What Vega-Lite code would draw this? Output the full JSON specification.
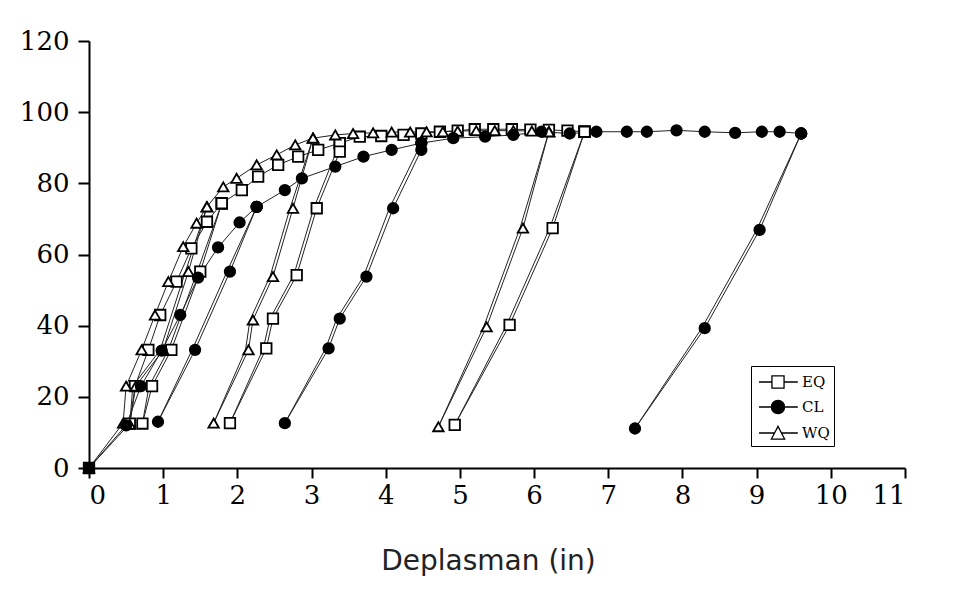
{
  "$schema": "https://vega.github.io/schema/vega-lite/v6.json",
  "width": 816,
  "height": 427,
  "autosize": {"type": "none"},
  "padding": {"left": 89, "top": 41, "right": 59, "bottom": 131},
  "background": "white",
  "config": {"view": {"stroke": null}},
  "datasets": {
    "curves": [
      {"s":"EQ","p":"EQ0","o":1,"x":0,"y":0},{"s":"EQ","p":"EQ0","o":2,"x":0.55,"y":12.5},{"s":"EQ","p":"EQ0","o":3,"x":0.62,"y":23},{"s":"EQ","p":"EQ0","o":4,"x":0.8,"y":33.2},{"s":"EQ","p":"EQ0","o":5,"x":0.96,"y":43},{"s":"EQ","p":"EQ0","o":6,"x":1.18,"y":52.4},{"s":"EQ","p":"EQ0","o":7,"x":1.38,"y":61.7},{"s":"EQ","p":"EQ0","o":8,"x":1.59,"y":69.2},{"s":"EQ","p":"EQ0","o":9,"x":1.79,"y":74.4},{"s":"EQ","p":"EQ0","o":10,"x":2.06,"y":78.1},{"s":"EQ","p":"EQ0","o":11,"x":2.28,"y":81.9},{"s":"EQ","p":"EQ0","o":12,"x":2.55,"y":85.2},{"s":"EQ","p":"EQ0","o":13,"x":2.82,"y":87.5},{"s":"EQ","p":"EQ0","o":14,"x":3.09,"y":89.4},{"s":"EQ","p":"EQ0","o":15,"x":3.38,"y":91.3},{"s":"EQ","p":"EQ0","o":16,"x":3.65,"y":93.1},{"s":"EQ","p":"EQ0","o":17,"x":3.94,"y":93.3},{"s":"EQ","p":"EQ0","o":18,"x":4.24,"y":93.6},{"s":"EQ","p":"EQ0","o":19,"x":4.48,"y":94},{"s":"EQ","p":"EQ0","o":20,"x":4.73,"y":94.5},{"s":"EQ","p":"EQ0","o":21,"x":4.97,"y":94.8},{"s":"EQ","p":"EQ0","o":22,"x":5.2,"y":95.2},{"s":"EQ","p":"EQ0","o":23,"x":5.45,"y":95.2},{"s":"EQ","p":"EQ0","o":24,"x":5.7,"y":95.2},{"s":"EQ","p":"EQ0","o":25,"x":5.95,"y":95.1},{"s":"EQ","p":"EQ0","o":26,"x":6.2,"y":95},{"s":"EQ","p":"EQ0","o":27,"x":6.45,"y":94.8},{"s":"EQ","p":"EQ0","o":28,"x":6.68,"y":94.5},
      {"s":"EQ","p":"EQ1","o":1,"x":1.79,"y":74.4},{"s":"EQ","p":"EQ1","o":2,"x":1.46,"y":55.2,"u":1},{"s":"EQ","p":"EQ1","o":3,"x":1.07,"y":33.2,"u":1},{"s":"EQ","p":"EQ1","o":4,"x":0.81,"y":23,"u":1},{"s":"EQ","p":"EQ1","o":5,"x":0.72,"y":12.5},{"s":"EQ","p":"EQ1","o":6,"x":0.85,"y":23},{"s":"EQ","p":"EQ1","o":7,"x":1.11,"y":33.2},{"s":"EQ","p":"EQ1","o":8,"x":1.5,"y":55.2},{"s":"EQ","p":"EQ1","o":9,"x":1.79,"y":74.4},
      {"s":"EQ","p":"EQ2","o":1,"x":3.38,"y":91.3},{"s":"EQ","p":"EQ2","o":2,"x":3.03,"y":73,"u":1},{"s":"EQ","p":"EQ2","o":3,"x":2.76,"y":54.2,"u":1},{"s":"EQ","p":"EQ2","o":4,"x":2.44,"y":42,"u":1},{"s":"EQ","p":"EQ2","o":5,"x":2.35,"y":33.6,"u":1},{"s":"EQ","p":"EQ2","o":6,"x":1.9,"y":12.6},{"s":"EQ","p":"EQ2","o":7,"x":2.39,"y":33.6},{"s":"EQ","p":"EQ2","o":8,"x":2.48,"y":42},{"s":"EQ","p":"EQ2","o":9,"x":2.8,"y":54.2},{"s":"EQ","p":"EQ2","o":10,"x":3.07,"y":73},{"s":"EQ","p":"EQ2","o":11,"x":3.38,"y":88.9},
      {"s":"EQ","p":"EQ3","o":1,"x":6.68,"y":94.5},{"s":"EQ","p":"EQ3","o":2,"x":6.21,"y":67.4,"u":1},{"s":"EQ","p":"EQ3","o":3,"x":5.63,"y":40.2,"u":1},{"s":"EQ","p":"EQ3","o":4,"x":4.93,"y":12.1},{"s":"EQ","p":"EQ3","o":5,"x":5.67,"y":40.2},{"s":"EQ","p":"EQ3","o":6,"x":6.25,"y":67.4},{"s":"EQ","p":"EQ3","o":7,"x":6.68,"y":94.5},
      {"s":"WQ","p":"WQ0","o":1,"x":0,"y":0},{"s":"WQ","p":"WQ0","o":2,"x":0.46,"y":12.6},{"s":"WQ","p":"WQ0","o":3,"x":0.5,"y":23},{"s":"WQ","p":"WQ0","o":4,"x":0.71,"y":33.2},{"s":"WQ","p":"WQ0","o":5,"x":0.89,"y":43},{"s":"WQ","p":"WQ0","o":6,"x":1.07,"y":52.4},{"s":"WQ","p":"WQ0","o":7,"x":1.27,"y":62.2},{"s":"WQ","p":"WQ0","o":8,"x":1.45,"y":68.8},{"s":"WQ","p":"WQ0","o":9,"x":1.59,"y":73.4},{"s":"WQ","p":"WQ0","o":10,"x":1.81,"y":79},{"s":"WQ","p":"WQ0","o":11,"x":1.99,"y":81.4},{"s":"WQ","p":"WQ0","o":12,"x":2.26,"y":85.2},{"s":"WQ","p":"WQ0","o":13,"x":2.53,"y":88},{"s":"WQ","p":"WQ0","o":14,"x":2.78,"y":90.8},{"s":"WQ","p":"WQ0","o":15,"x":3.02,"y":92.7},{"s":"WQ","p":"WQ0","o":16,"x":3.32,"y":93.6},{"s":"WQ","p":"WQ0","o":17,"x":3.56,"y":94},{"s":"WQ","p":"WQ0","o":18,"x":3.83,"y":94.2},{"s":"WQ","p":"WQ0","o":19,"x":4.08,"y":94.4},{"s":"WQ","p":"WQ0","o":20,"x":4.33,"y":94.4},{"s":"WQ","p":"WQ0","o":21,"x":4.55,"y":94.5},{"s":"WQ","p":"WQ0","o":22,"x":4.77,"y":94.5},{"s":"WQ","p":"WQ0","o":23,"x":4.97,"y":94.7},{"s":"WQ","p":"WQ0","o":24,"x":5.22,"y":94.8},{"s":"WQ","p":"WQ0","o":25,"x":5.47,"y":94.8},{"s":"WQ","p":"WQ0","o":26,"x":5.72,"y":94.8},{"s":"WQ","p":"WQ0","o":27,"x":5.97,"y":94.7},{"s":"WQ","p":"WQ0","o":28,"x":6.2,"y":94.5},
      {"s":"WQ","p":"WQ1","o":1,"x":1.59,"y":73.4},{"s":"WQ","p":"WQ1","o":2,"x":1.3,"y":55.2,"u":1},{"s":"WQ","p":"WQ1","o":3,"x":0.96,"y":33.2,"u":1},{"s":"WQ","p":"WQ1","o":4,"x":0.59,"y":23,"u":1},{"s":"WQ","p":"WQ1","o":5,"x":0.55,"y":12.3},{"s":"WQ","p":"WQ1","o":6,"x":0.63,"y":23},{"s":"WQ","p":"WQ1","o":7,"x":1.0,"y":33.2},{"s":"WQ","p":"WQ1","o":8,"x":1.34,"y":55.2},{"s":"WQ","p":"WQ1","o":9,"x":1.59,"y":73.4},
      {"s":"WQ","p":"WQ2","o":1,"x":3.02,"y":92.7},{"s":"WQ","p":"WQ2","o":2,"x":2.71,"y":73,"u":1},{"s":"WQ","p":"WQ2","o":3,"x":2.44,"y":53.8,"u":1},{"s":"WQ","p":"WQ2","o":4,"x":2.17,"y":41.6,"u":1},{"s":"WQ","p":"WQ2","o":5,"x":2.11,"y":33.2,"u":1},{"s":"WQ","p":"WQ2","o":6,"x":1.68,"y":12.6},{"s":"WQ","p":"WQ2","o":7,"x":2.15,"y":33.2},{"s":"WQ","p":"WQ2","o":8,"x":2.21,"y":41.6},{"s":"WQ","p":"WQ2","o":9,"x":2.48,"y":53.8},{"s":"WQ","p":"WQ2","o":10,"x":2.75,"y":73},{"s":"WQ","p":"WQ2","o":11,"x":3.02,"y":92.7},
      {"s":"WQ","p":"WQ3","o":1,"x":6.2,"y":94.5},{"s":"WQ","p":"WQ3","o":2,"x":5.81,"y":67.4,"u":1},{"s":"WQ","p":"WQ3","o":3,"x":5.32,"y":39.7,"u":1},{"s":"WQ","p":"WQ3","o":4,"x":4.71,"y":11.6},{"s":"WQ","p":"WQ3","o":5,"x":5.36,"y":39.7},{"s":"WQ","p":"WQ3","o":6,"x":5.85,"y":67.4},{"s":"WQ","p":"WQ3","o":7,"x":6.2,"y":94.5},
      {"s":"CL","p":"CL0","o":1,"x":0,"y":0},{"s":"CL","p":"CL0","o":2,"x":0.5,"y":12},{"s":"CL","p":"CL0","o":3,"x":0.7,"y":23},{"s":"CL","p":"CL0","o":4,"x":0.98,"y":33},{"s":"CL","p":"CL0","o":5,"x":1.23,"y":43},{"s":"CL","p":"CL0","o":6,"x":1.47,"y":53.5},{"s":"CL","p":"CL0","o":7,"x":1.74,"y":62},{"s":"CL","p":"CL0","o":8,"x":2.03,"y":69},{"s":"CL","p":"CL0","o":9,"x":2.26,"y":73.4},{"s":"CL","p":"CL0","o":10,"x":2.64,"y":78.1},{"s":"CL","p":"CL0","o":11,"x":2.87,"y":81.4},{"s":"CL","p":"CL0","o":12,"x":3.32,"y":84.7},{"s":"CL","p":"CL0","o":13,"x":3.7,"y":87.5},{"s":"CL","p":"CL0","o":14,"x":4.08,"y":89.4},{"s":"CL","p":"CL0","o":15,"x":4.48,"y":91.3},{"s":"CL","p":"CL0","o":16,"x":4.91,"y":92.7},{"s":"CL","p":"CL0","o":17,"x":5.34,"y":93.1},{"s":"CL","p":"CL0","o":18,"x":5.72,"y":93.6},{"s":"CL","p":"CL0","o":19,"x":6.1,"y":94.5},{"s":"CL","p":"CL0","o":20,"x":6.48,"y":94},{"s":"CL","p":"CL0","o":21,"x":6.84,"y":94.5},{"s":"CL","p":"CL0","o":22,"x":7.25,"y":94.5},{"s":"CL","p":"CL0","o":23,"x":7.52,"y":94.5},{"s":"CL","p":"CL0","o":24,"x":7.92,"y":94.9},{"s":"CL","p":"CL0","o":25,"x":8.3,"y":94.5},{"s":"CL","p":"CL0","o":26,"x":8.71,"y":94.2},{"s":"CL","p":"CL0","o":27,"x":9.07,"y":94.5},{"s":"CL","p":"CL0","o":28,"x":9.31,"y":94.5},{"s":"CL","p":"CL0","o":29,"x":9.6,"y":94},
      {"s":"CL","p":"CL1","o":1,"x":2.26,"y":73.4},{"s":"CL","p":"CL1","o":2,"x":1.86,"y":55.2,"u":1},{"s":"CL","p":"CL1","o":3,"x":1.39,"y":33.2,"u":1},{"s":"CL","p":"CL1","o":4,"x":0.93,"y":13},{"s":"CL","p":"CL1","o":5,"x":1.43,"y":33.2},{"s":"CL","p":"CL1","o":6,"x":1.9,"y":55.2},{"s":"CL","p":"CL1","o":7,"x":2.26,"y":73.4},
      {"s":"CL","p":"CL2","o":1,"x":4.48,"y":91.3},{"s":"CL","p":"CL2","o":2,"x":4.05,"y":73,"u":1},{"s":"CL","p":"CL2","o":3,"x":3.7,"y":53.8,"u":1},{"s":"CL","p":"CL2","o":4,"x":3.34,"y":42,"u":1},{"s":"CL","p":"CL2","o":5,"x":3.19,"y":33.6,"u":1},{"s":"CL","p":"CL2","o":6,"x":2.64,"y":12.6},{"s":"CL","p":"CL2","o":7,"x":3.23,"y":33.6},{"s":"CL","p":"CL2","o":8,"x":3.38,"y":42},{"s":"CL","p":"CL2","o":9,"x":3.74,"y":53.8},{"s":"CL","p":"CL2","o":10,"x":4.1,"y":73},{"s":"CL","p":"CL2","o":11,"x":4.48,"y":89.4},
      {"s":"CL","p":"CL3","o":1,"x":9.6,"y":94},{"s":"CL","p":"CL3","o":2,"x":9.0,"y":66.9,"u":1},{"s":"CL","p":"CL3","o":3,"x":8.26,"y":39.3,"u":1},{"s":"CL","p":"CL3","o":4,"x":7.36,"y":11.1},{"s":"CL","p":"CL3","o":5,"x":8.3,"y":39.3},{"s":"CL","p":"CL3","o":6,"x":9.04,"y":66.9},{"s":"CL","p":"CL3","o":7,"x":9.6,"y":94}
    ],
    "legendRows": [{"s":"EQ"},{"s":"CL"},{"s":"WQ"}]
  },
  "layer": [
    {
      "data": {"name": "curves"},
      "mark": {"type": "line", "color": "#222222", "strokeWidth": 1},
      "encoding": {
        "x": {"field": "x", "type": "quantitative", "scale": {"domain": [0, 11], "nice": false},
          "axis": {"values": [0,1,2,3,4,5,6,7,8,9,10,11], "format": "d", "title": "Deplasman (in)", "grid": false,
            "domainColor": "black", "domainWidth": 2, "tickColor": "black", "tickWidth": 2, "tickSize": 10,
            "labelFont": "DejaVu Serif", "labelFontSize": 26, "labelColor": "black", "labelPadding": 4,
            "titleFont": "DejaVu Sans", "titleFontSize": 28, "titleFontWeight": "normal", "titleColor": "#222222",
            "titlePadding": 39, "titleX": 399}},
        "y": {"field": "y", "type": "quantitative", "scale": {"domain": [0, 120], "nice": false},
          "axis": {"values": [0,20,40,60,80,100,120], "format": "d", "title": null, "grid": false,
            "domainColor": "black", "domainWidth": 2, "tickColor": "black", "tickWidth": 2, "tickSize": 11,
            "labelFont": "DejaVu Serif", "labelFontSize": 26, "labelColor": "black", "labelPadding": 9}},
        "detail": {"field": "p"},
        "order": {"field": "o", "type": "quantitative"}
      }
    },
    {
      "data": {"name": "curves"},
      "transform": [{"filter": "datum.u != 1"}],
      "mark": {"type": "point", "stroke": "black", "strokeWidth": 1.8, "size": 110, "opacity": 1},
      "encoding": {
        "x": {"field": "x", "type": "quantitative"},
        "y": {"field": "y", "type": "quantitative"},
        "shape": {"field": "s", "type": "nominal", "scale": {"domain": ["EQ","CL","WQ"], "range": ["square","circle","triangle-up"]}, "legend": null},
        "fill": {"field": "s", "type": "nominal", "scale": {"domain": ["EQ","CL","WQ"], "range": ["white","black","white"]}, "legend": null}
      }
    },
    {
      "data": {"name": "legendRows"},
      "transform": [{"filter": "datum.s == 'none'"}],
      "mark": {"type": "point", "filled": true, "strokeWidth": 1.3, "opacity": 1},
      "encoding": {
        "shape": {"field": "s", "type": "nominal",
          "scale": {"domain": ["EQ","CL","WQ"], "range": [
            "M-0.73,0H0.45M1.55,0H2.8M0.45,-0.55H1.55V0.55H0.45Z",
            "M-0.73,0H0.4M1.6,0H2.8M0.4,0A0.6,0.6 0 1,0 1.6,0A0.6,0.6 0 1,0 0.4,0Z",
            "M-0.73,0H0.69M1.31,0H2.8M1,-0.6L1.6,0.55H0.4Z"]},
          "legend": {"orient": "none", "legendX": 662, "legendY": 325, "title": null, "strokeColor": "black",
            "padding": 4, "symbolSize": 484, "symbolStrokeWidth": 1.3,
            "labelFont": "DejaVu Serif", "labelFontSize": 15, "labelColor": "black", "labelOffset": 23,
            "labelExpr": "datum.label + '\u00a0\u00a0\u00a0\u00a0\u00a0\u00a0'", "rowPadding": 4, "fillColor": "white"}},
        "fill": {"field": "s", "type": "nominal", "scale": {"domain": ["EQ","CL","WQ"], "range": ["white","black","white"]},
          "legend": {"orient": "none", "legendX": 662, "legendY": 325, "title": null, "strokeColor": "black",
            "padding": 4, "symbolSize": 484, "symbolStrokeWidth": 1.3,
            "labelFont": "DejaVu Serif", "labelFontSize": 15, "labelColor": "black", "labelOffset": 23,
            "labelExpr": "datum.label + '\u00a0\u00a0\u00a0\u00a0\u00a0\u00a0'", "rowPadding": 4, "fillColor": "white"}},
        "stroke": {"field": "s", "type": "nominal", "scale": {"domain": ["EQ","CL","WQ"], "range": ["black","black","black"]},
          "legend": {"orient": "none", "legendX": 662, "legendY": 325, "title": null, "strokeColor": "black",
            "padding": 4, "symbolSize": 484, "symbolStrokeWidth": 1.3,
            "labelFont": "DejaVu Serif", "labelFontSize": 15, "labelColor": "black", "labelOffset": 23,
            "labelExpr": "datum.label + '\u00a0\u00a0\u00a0\u00a0\u00a0\u00a0'", "rowPadding": 4, "fillColor": "white"}}
      }
    }
  ],
  "resolve": {"scale": {"shape": "independent", "fill": "independent", "stroke": "independent"}}
}
